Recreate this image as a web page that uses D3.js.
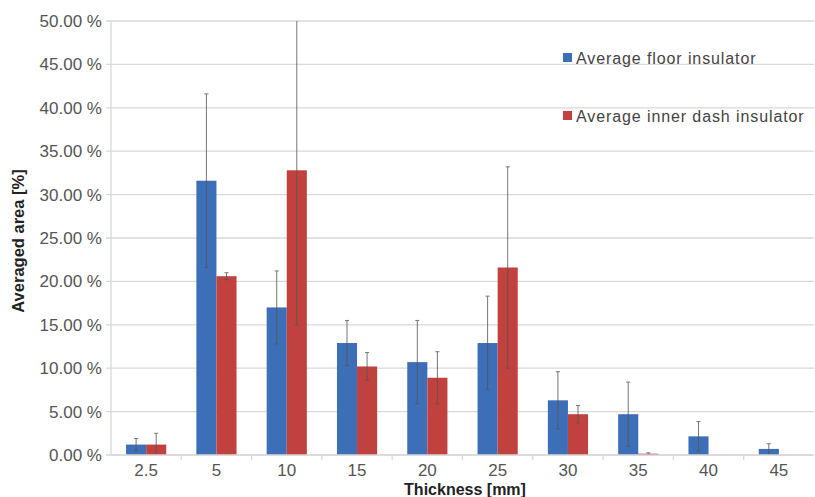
<!DOCTYPE html>
<html lang="en">
<head>
<meta charset="utf-8">
<title>Averaged area by thickness</title>
<style>
  body { margin: 0; background: #fff; }
  svg text { font-family: "Liberation Sans", Arial, sans-serif; }
</style>
</head>
<body>
<svg id="chart" width="815" height="497"></svg>
<script src="https://d3js.org/d3.v7.min.js"></script>
<script>
// thickness classes [mm]
const categories = ["2.5", "5", "10", "15", "20", "25", "30", "35", "40", "45"];

// averaged area [%] and error (+/-)
const floorValues = [1.2, 31.6, 17.0, 12.9, 10.7, 12.9, 6.3, 4.7, 2.15, 0.7];
const floorErrors = [0.7, 10.0, 4.2, 2.6, 4.8, 5.4, 3.3, 3.7, 1.7, 0.6];
const dashValues  = [1.2, 20.6, 32.8, 10.2, 8.9, 21.6, 4.7, 0.15, 0, 0];
const dashErrors  = [1.3, 0.4, 17.8, 1.6, 3.0, 11.6, 1.0, 0.1, 0, 0];

const yTicks = [0, 5, 10, 15, 20, 25, 30, 35, 40, 45, 50];

const series = [
  { name: "Average floor insulator", color: "#3d6fb8", values: floorValues, errors: floorErrors },
  { name: "Average inner dash insulator", color: "#c1413f", values: dashValues, errors: dashErrors }
];

const margin = { top: 21, right: 1, bottom: 42, left: 111 };
const width = 815, height = 497;

const svg = d3.select("#chart");

const x = d3.scaleBand()
  .domain(categories)
  .range([margin.left, width - margin.right])
  .paddingInner(0)
  .paddingOuter(0);

const xSub = d3.scaleBand()
  .domain(series.map(s => s.name))
  .range([0, x.bandwidth()])
  .paddingInner(0)
  .paddingOuter(0.75);

const y = d3.scaleLinear()
  .domain([0, 50])
  .range([height - margin.bottom, margin.top]);

// gridlines
svg.append("g")
  .selectAll("line")
  .data(yTicks)
  .join("line")
    .attr("x1", margin.left - 5)
    .attr("x2", width - margin.right)
    .attr("y1", d => y(d))
    .attr("y2", d => y(d))
    .attr("stroke", "#d9d9d9")
    .attr("stroke-width", 1.3);

// y tick labels
svg.append("g")
  .selectAll("text")
  .data(yTicks)
  .join("text")
    .attr("x", margin.left - 9)
    .attr("y", d => y(d))
    .attr("dy", "0.35em")
    .attr("text-anchor", "end")
    .attr("font-size", 17)
    .attr("fill", "#555")
    .text(d => d.toFixed(2) + " %");

// left axis line
svg.append("line")
  .attr("x1", margin.left).attr("x2", margin.left)
  .attr("y1", margin.top).attr("y2", y(0))
  .attr("stroke", "#d9d9d9")
  .attr("stroke-width", 1.3);

// bars
const groups = svg.append("g")
  .selectAll("g")
  .data(series)
  .join("g")
    .attr("fill", d => d.color);

groups.selectAll("rect")
  .data(s => categories.map((c, i) => ({ cat: c, v: s.values[i], e: s.errors[i], name: s.name })))
  .join("rect")
    .attr("x", d => x(d.cat) + xSub(d.name))
    .attr("width", xSub.bandwidth())
    .attr("y", d => y(d.v))
    .attr("height", d => y(0) - y(d.v));

// error bars
const errData = series.flatMap(s => categories.map((c, i) => ({ cat: c, v: s.values[i], e: s.errors[i], name: s.name })))
  .filter(d => d.e > 0);

const err = svg.append("g")
  .attr("stroke", "#555")
  .attr("stroke-width", 1)
  .attr("opacity", 0.8);

err.selectAll("line.v")
  .data(errData)
  .join("line")
    .attr("class", "v")
    .attr("x1", d => x(d.cat) + xSub(d.name) + xSub.bandwidth() / 2)
    .attr("x2", d => x(d.cat) + xSub(d.name) + xSub.bandwidth() / 2)
    .attr("y1", d => y(Math.min(50, d.v + d.e)))
    .attr("y2", d => y(Math.max(0, d.v - d.e)));

err.selectAll("line.cap")
  .data(errData.flatMap(d => [
    { d, val: d.v + d.e },
    { d, val: d.v - d.e }
  ]).filter(c => c.val <= 50 && c.val >= 0))
  .join("line")
    .attr("class", "cap")
    .attr("x1", c => x(c.d.cat) + xSub(c.d.name) + xSub.bandwidth() / 2 - 2)
    .attr("x2", c => x(c.d.cat) + xSub(c.d.name) + xSub.bandwidth() / 2 + 2)
    .attr("y1", c => y(c.val))
    .attr("y2", c => y(c.val));

// x axis baseline and ticks
svg.append("line")
  .attr("x1", margin.left).attr("x2", width - margin.right)
  .attr("y1", y(0)).attr("y2", y(0))
  .attr("stroke", "#d9d9d9")
  .attr("stroke-width", 1.3);

svg.append("g")
  .selectAll("line")
  .data(categories.slice(1))
  .join("line")
    .attr("x1", d => x(d)).attr("x2", d => x(d))
    .attr("y1", y(0)).attr("y2", y(0) + 5)
    .attr("stroke", "#d9d9d9")
    .attr("stroke-width", 1.3);

svg.append("g")
  .selectAll("text")
  .data(categories)
  .join("text")
    .attr("x", d => x(d) + x.bandwidth() / 2)
    .attr("y", y(0) + 21)
    .attr("text-anchor", "middle")
    .attr("font-size", 17)
    .attr("fill", "#555")
    .text(d => d);

// axis titles
svg.append("text")
  .attr("x", 465)
  .attr("y", 495)
  .attr("text-anchor", "middle")
  .attr("font-size", 16)
  .attr("font-weight", "bold")
  .attr("fill", "#222")
  .text("Thickness [mm]");

svg.append("text")
  .attr("transform", "translate(24,241) rotate(-90)")
  .attr("text-anchor", "middle")
  .attr("font-size", 16.5)
  .attr("font-weight", "bold")
  .attr("fill", "#222")
  .text("Averaged area [%]");

// legend
const legend = svg.append("g")
  .selectAll("g")
  .data(series)
  .join("g")
    .attr("transform", (d, i) => `translate(563,${58 + i * 58})`);

legend.append("rect")
  .attr("x", 0).attr("y", -5)
  .attr("width", 9).attr("height", 9)
  .attr("fill", d => d.color);

legend.append("text")
  .attr("x", 13)
  .attr("y", 0)
  .attr("dy", "0.35em")
  .attr("font-size", 16)
  .attr("letter-spacing", 0.9)
  .attr("fill", "#444")
  .text(d => d.name);
</script>
</body>
</html>
